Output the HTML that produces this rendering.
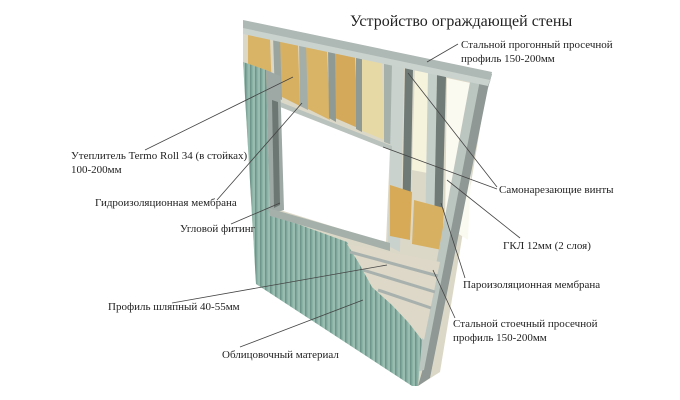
<!DOCTYPE html>
<html><head><meta charset="utf-8">
<style>
html,body{margin:0;padding:0;background:#fff;}
svg{display:block;}
text{font-family:"Liberation Serif",serif;fill:#222;font-size:11px;}
</style></head><body>
<svg width="680" height="400" viewBox="0 0 680 400" xmlns="http://www.w3.org/2000/svg">
<defs>
<pattern id="clad" width="5" height="20" patternUnits="userSpaceOnUse">
<rect width="5" height="20" fill="#8ab2a5"/>
<rect x="0" width="1.5" height="20" fill="#6e968a"/>
<rect x="3.5" width="1" height="20" fill="#a6c8bc"/>
</pattern>
</defs>
<!-- back frame / panel area -->
<polygon points="243,22 490,74 487,86 440,372 418,386 256,284 243,62" fill="#dcd8c8"/>
<!-- window white -->
<polygon points="276,103 390,148 386,243 280,210" fill="#fff"/>
<!-- gaps between studs on right -->
<polygon points="415,68 440,74 438,175 412,170" fill="#f6f3dc"/>
<polygon points="447,78 475,84 468,240 445,225" fill="#fbfaf0"/>
<!-- upper insulation -->
<polygon points="248,32 270,38 272,95 248,82" fill="#d9b466"/>
<polygon points="280,40 298,44 300,106 280,96" fill="#d8b062"/>
<polygon points="306,46 327,50 330,120 306,108" fill="#d9b466"/>
<polygon points="335,52 355,56 358,128 335,118" fill="#d4a95a"/>
<polygon points="360,58 382,62 384,140 360,130" fill="#e6d9a6"/>
<!-- studs upper -->
<polygon points="273,36 280,38 282,100 275,97" fill="#9aa5a0"/>
<polygon points="299,42 306,44 308,110 300,106" fill="#a4aea9"/>
<polygon points="328,48 335,50 336,122 329,118" fill="#8f9a95"/>
<polygon points="356,55 362,57 362,132 356,129" fill="#8f9a95"/>
<polygon points="384,60 392,62 392,145 384,142" fill="#a7b1ac"/>
<!-- right studs -->
<polygon points="392,64 404,66 400,252 388,246" fill="#c9d2cd"/>
<polygon points="405,67 413,68 410,232 402,230" fill="#6f7a76"/>
<polygon points="428,72 437,74 434,240 425,238" fill="#c5cfca"/>
<polygon points="437,74 446,76 442,232 434,232" fill="#707b77"/>
<!-- right insulation -->
<polygon points="390,185 412,192 410,240 390,236" fill="#d6aa57"/>
<polygon points="414,200 444,208 442,250 412,244" fill="#d8b062"/>
<!-- right post -->
<polygon points="478,78 492,74 488,88 430,378 418,386 422,372" fill="#8f9894"/>
<polygon points="470,82 480,80 424,370 416,372" fill="#bcc6c1"/>
<!-- top frame band -->
<polygon points="243,20 492,72 490,82 243,30" fill="#aeb8b4"/>
<polygon points="243,28 490,80 488,86 243,34" fill="#cbd3cf"/>
<!-- header bottom edge -->
<polygon points="270,98 392,146 392,151 270,103" fill="#b9c2bd"/>
<!-- green cladding -->
<polygon points="243,62 266,70 270,214 347,242 360,265 372,287 392,305 408,322 422,340 418,386 412,386 256,284" fill="url(#clad)"/>
<!-- window left jamb -->
<polygon points="266,70 280,76 284,210 270,214" fill="#9ea8a4"/>
<polygon points="272,100 278,102 280,205 274,208" fill="#6c7672"/>
<!-- sill -->
<polygon points="268,208 390,243 390,251 270,216" fill="#a6b0ab"/>
<!-- exposed gypsum below sill right -->
<polygon points="347,244 390,252 440,262 424,340 408,322 392,305 372,287 360,265" fill="#ddd8c7"/>
<!-- hat rails -->
<line x1="350" y1="252" x2="438" y2="276" stroke="#a8b1ad" stroke-width="3"/>
<line x1="363" y1="270" x2="435" y2="292" stroke="#a8b1ad" stroke-width="3"/>
<line x1="378" y1="290" x2="431" y2="308" stroke="#a8b1ad" stroke-width="3"/>
<!-- leader lines -->
<g stroke="#444" stroke-width="0.8" fill="none">
<line x1="145" y1="150" x2="293" y2="77"/>
<line x1="217" y1="200" x2="302" y2="103"/>
<line x1="231" y1="224" x2="280" y2="203"/>
<line x1="172" y1="303" x2="387" y2="265"/>
<line x1="240" y1="347" x2="363" y2="300"/>
<line x1="458" y1="44" x2="427" y2="62"/>
<line x1="497" y1="187" x2="408" y2="73"/>
<line x1="497" y1="189" x2="383" y2="147"/>
<line x1="520" y1="238" x2="447" y2="180"/>
<line x1="465" y1="278" x2="441" y2="203"/>
<line x1="455" y1="318" x2="433" y2="270"/>
</g>
<!-- labels -->
<text x="350" y="26" style="font-size:16px">Устройство ограждающей стены</text>
<text x="461" y="48">Стальной прогонный просечной</text>
<text x="461" y="62">профиль 150-200мм</text>
<text x="71" y="159">Утеплитель Termo Roll 34 (в стойках)</text>
<text x="71" y="173">100-200мм</text>
<text x="95" y="206">Гидроизоляционная мембрана</text>
<text x="180" y="232">Угловой фитинг</text>
<text x="499" y="193">Самонарезающие винты</text>
<text x="503" y="249">ГКЛ 12мм (2 слоя)</text>
<text x="463" y="288">Пароизоляционная мембрана</text>
<text x="453" y="327">Стальной стоечный просечной</text>
<text x="453" y="341">профиль 150-200мм</text>
<text x="108" y="310">Профиль шляпный 40-55мм</text>
<text x="222" y="358">Облицовочный материал</text>
</svg>
</body></html>
